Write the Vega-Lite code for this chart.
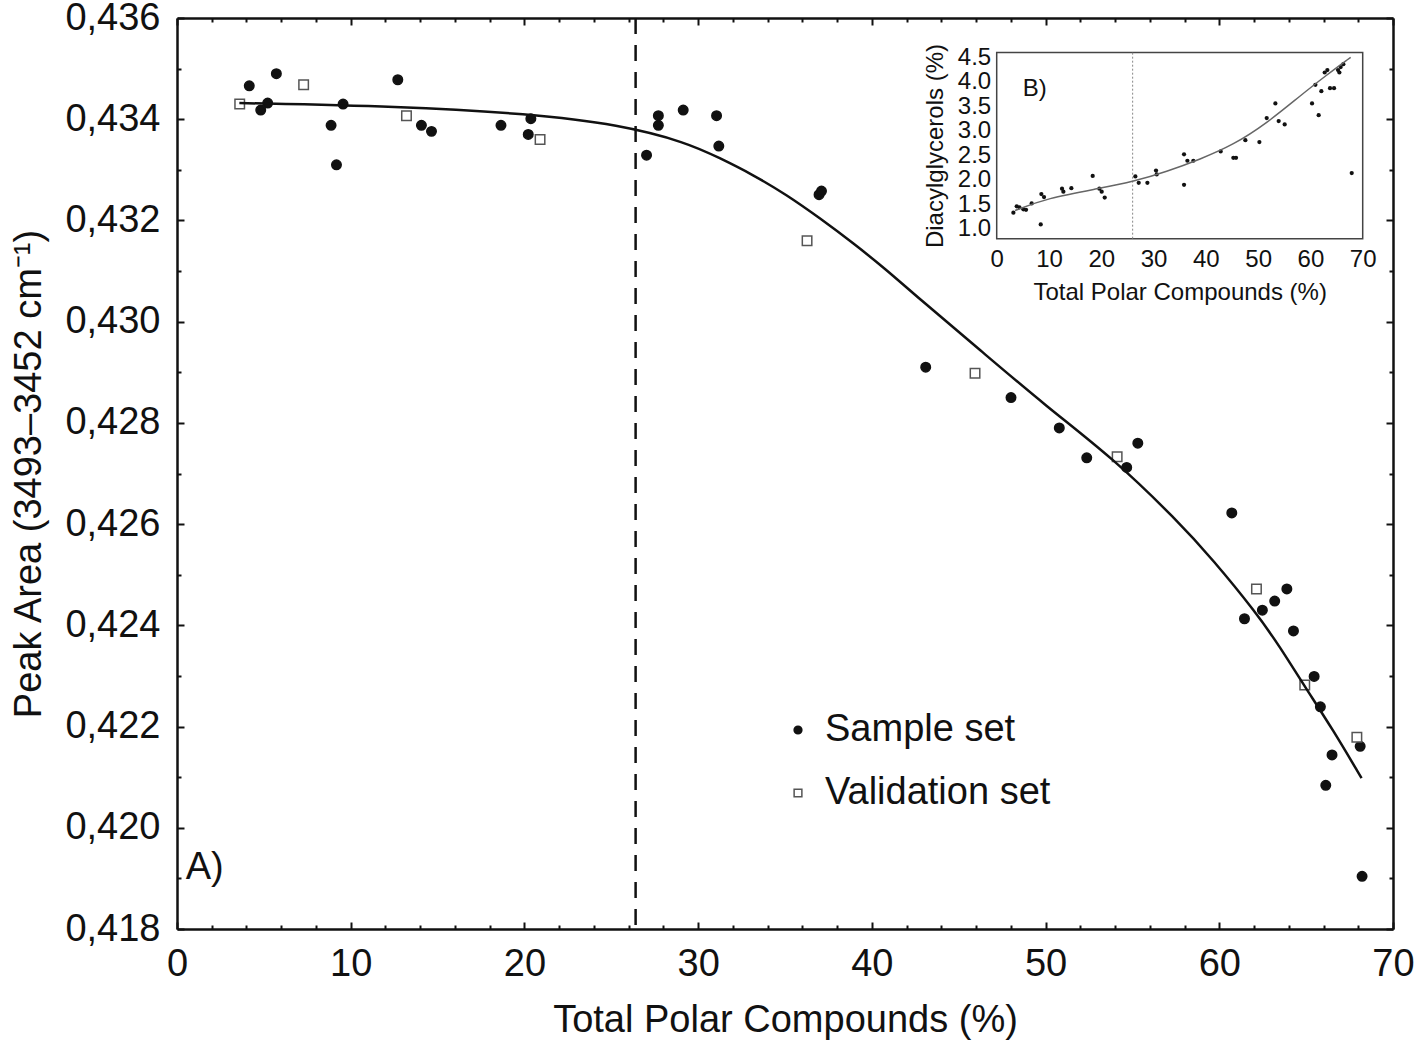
{
  "$schema": "https://vega.github.io/schema/vega-lite/v6.json",
  "width": 1216,
  "height": 911,
  "autosize": {"type": "none"},
  "padding": {"left": 177, "top": 18, "right": 21, "bottom": 112},
  "background": "white",
  "config": {
    "view": {"stroke": null},
    "font": "Liberation Sans",
    "axis": {
      "labelFont": "Liberation Sans",
      "titleFont": "Liberation Sans",
      "labelColor": "#111",
      "titleColor": "#111",
      "tickColor": "#111",
      "domainColor": "#111",
      "grid": false,
      "titleFontWeight": "normal",
      "labelFlush": false,
      "labelOverlap": false,
      "labelBound": false
    },
    "legend": {"labelFont": "Liberation Sans", "labelLimit": 0}
  },
  "datasets": {
    "main": [
      {"tpc": 4.16, "area": 0.43466, "set": "Sample set"},
      {"tpc": 5.72, "area": 0.43490, "set": "Sample set"},
      {"tpc": 4.82, "area": 0.43418, "set": "Sample set"},
      {"tpc": 5.22, "area": 0.43432, "set": "Sample set"},
      {"tpc": 9.56, "area": 0.43430, "set": "Sample set"},
      {"tpc": 8.87, "area": 0.43388, "set": "Sample set"},
      {"tpc": 9.18, "area": 0.43310, "set": "Sample set"},
      {"tpc": 12.71, "area": 0.43478, "set": "Sample set"},
      {"tpc": 14.07, "area": 0.43388, "set": "Sample set"},
      {"tpc": 14.65, "area": 0.43376, "set": "Sample set"},
      {"tpc": 18.65, "area": 0.43388, "set": "Sample set"},
      {"tpc": 20.37, "area": 0.43401, "set": "Sample set"},
      {"tpc": 20.22, "area": 0.43370, "set": "Sample set"},
      {"tpc": 27.03, "area": 0.43329, "set": "Sample set"},
      {"tpc": 27.71, "area": 0.43407, "set": "Sample set"},
      {"tpc": 27.71, "area": 0.43388, "set": "Sample set"},
      {"tpc": 29.14, "area": 0.43418, "set": "Sample set"},
      {"tpc": 31.06, "area": 0.43407, "set": "Sample set"},
      {"tpc": 31.19, "area": 0.43347, "set": "Sample set"},
      {"tpc": 36.96, "area": 0.43251, "set": "Sample set"},
      {"tpc": 37.10, "area": 0.43258, "set": "Sample set"},
      {"tpc": 43.10, "area": 0.42910, "set": "Sample set"},
      {"tpc": 48.01, "area": 0.42850, "set": "Sample set"},
      {"tpc": 50.79, "area": 0.42790, "set": "Sample set"},
      {"tpc": 52.37, "area": 0.42731, "set": "Sample set"},
      {"tpc": 54.67, "area": 0.42712, "set": "Sample set"},
      {"tpc": 55.31, "area": 0.42760, "set": "Sample set"},
      {"tpc": 60.72, "area": 0.42622, "set": "Sample set"},
      {"tpc": 61.45, "area": 0.42413, "set": "Sample set"},
      {"tpc": 62.48, "area": 0.42430, "set": "Sample set"},
      {"tpc": 63.19, "area": 0.42448, "set": "Sample set"},
      {"tpc": 63.89, "area": 0.42472, "set": "Sample set"},
      {"tpc": 64.27, "area": 0.42389, "set": "Sample set"},
      {"tpc": 65.46, "area": 0.42299, "set": "Sample set"},
      {"tpc": 65.82, "area": 0.42239, "set": "Sample set"},
      {"tpc": 66.49, "area": 0.42144, "set": "Sample set"},
      {"tpc": 66.13, "area": 0.42084, "set": "Sample set"},
      {"tpc": 68.11, "area": 0.42161, "set": "Sample set"},
      {"tpc": 68.22, "area": 0.41904, "set": "Sample set"},
      {"tpc": 3.61, "area": 0.43430, "set": "Validation set"},
      {"tpc": 7.29, "area": 0.43468, "set": "Validation set"},
      {"tpc": 13.21, "area": 0.43407, "set": "Validation set"},
      {"tpc": 20.90, "area": 0.43360, "set": "Validation set"},
      {"tpc": 36.27, "area": 0.43160, "set": "Validation set"},
      {"tpc": 45.94, "area": 0.42898, "set": "Validation set"},
      {"tpc": 54.12, "area": 0.42733, "set": "Validation set"},
      {"tpc": 62.14, "area": 0.42472, "set": "Validation set"},
      {"tpc": 64.92, "area": 0.42282, "set": "Validation set"},
      {"tpc": 67.92, "area": 0.42179, "set": "Validation set"}
    ],
    "mainFit": [
      {"tpc": 3.59, "area": 0.434320},
      {"tpc": 12.80, "area": 0.434253},
      {"tpc": 20.29, "area": 0.434109},
      {"tpc": 25.49, "area": 0.433891},
      {"tpc": 29.33, "area": 0.433542},
      {"tpc": 31.24, "area": 0.433233},
      {"tpc": 33.16, "area": 0.432903},
      {"tpc": 35.08, "area": 0.432508},
      {"tpc": 37.00, "area": 0.432047},
      {"tpc": 38.92, "area": 0.431553},
      {"tpc": 40.84, "area": 0.431026},
      {"tpc": 42.57, "area": 0.430500},
      {"tpc": 46.21, "area": 0.429445},
      {"tpc": 50.05, "area": 0.428324},
      {"tpc": 53.89, "area": 0.427300},
      {"tpc": 57.54, "area": 0.426085},
      {"tpc": 59.64, "area": 0.425294},
      {"tpc": 62.14, "area": 0.424241},
      {"tpc": 63.48, "area": 0.423581},
      {"tpc": 64.92, "area": 0.422790},
      {"tpc": 66.55, "area": 0.421935},
      {"tpc": 68.19, "area": 0.420980}
    ],
    "inset": [
      {"tpc": 3.19, "dag": 1.33}, {"tpc": 3.83, "dag": 1.46}, {"tpc": 4.34, "dag": 1.44},
      {"tpc": 5.10, "dag": 1.40}, {"tpc": 5.61, "dag": 1.39}, {"tpc": 6.69, "dag": 1.52},
      {"tpc": 8.42, "dag": 1.09}, {"tpc": 8.54, "dag": 1.71}, {"tpc": 9.05, "dag": 1.65},
      {"tpc": 12.49, "dag": 1.82}, {"tpc": 12.75, "dag": 1.76}, {"tpc": 14.28, "dag": 1.83},
      {"tpc": 18.36, "dag": 2.08}, {"tpc": 19.64, "dag": 1.82}, {"tpc": 20.08, "dag": 1.76},
      {"tpc": 20.66, "dag": 1.64}, {"tpc": 26.52, "dag": 2.07}, {"tpc": 27.16, "dag": 1.94},
      {"tpc": 28.82, "dag": 1.94}, {"tpc": 30.47, "dag": 2.19}, {"tpc": 30.60, "dag": 2.11},
      {"tpc": 35.83, "dag": 2.52}, {"tpc": 35.83, "dag": 1.90}, {"tpc": 36.47, "dag": 2.39},
      {"tpc": 37.61, "dag": 2.39}, {"tpc": 42.84, "dag": 2.58}, {"tpc": 45.26, "dag": 2.45},
      {"tpc": 45.77, "dag": 2.45}, {"tpc": 47.56, "dag": 2.81}, {"tpc": 50.24, "dag": 2.77},
      {"tpc": 51.64, "dag": 3.26}, {"tpc": 53.30, "dag": 3.56}, {"tpc": 53.93, "dag": 3.20},
      {"tpc": 55.08, "dag": 3.13}, {"tpc": 60.31, "dag": 3.56}, {"tpc": 60.95, "dag": 3.94},
      {"tpc": 61.58, "dag": 3.32}, {"tpc": 62.09, "dag": 3.81}, {"tpc": 62.73, "dag": 4.19},
      {"tpc": 63.24, "dag": 4.24}, {"tpc": 63.75, "dag": 3.87}, {"tpc": 64.52, "dag": 3.87},
      {"tpc": 65.28, "dag": 4.24}, {"tpc": 65.54, "dag": 4.19}, {"tpc": 65.79, "dag": 4.30},
      {"tpc": 66.30, "dag": 4.36}, {"tpc": 67.90, "dag": 2.14}
    ],
    "insetFit": [
      {"tpc": 3.51, "dag": 1.374},
      {"tpc": 9.56, "dag": 1.625},
      {"tpc": 19.76, "dag": 1.829},
      {"tpc": 26.14, "dag": 1.965},
      {"tpc": 32.51, "dag": 2.169},
      {"tpc": 38.89, "dag": 2.420},
      {"tpc": 45.26, "dag": 2.713},
      {"tpc": 51.64, "dag": 3.154},
      {"tpc": 58.01, "dag": 3.712},
      {"tpc": 63.11, "dag": 4.140},
      {"tpc": 67.70, "dag": 4.500}
    ]
  },
  "layer": [
    {
      "layer": [
        {
          "data": {"values": [{"tpc": 26.4}]},
          "mark": {"type": "rule", "strokeDash": [16, 11], "strokeWidth": 2.5, "color": "#111"},
          "encoding": {
            "x": {
              "field": "tpc", "type": "quantitative",
              "scale": {"domain": [0, 70], "nice": false, "zero": false},
              "axis": {
                "orient": "bottom", "values": [0, 10, 20, 30, 40, 50, 60, 70],
                "tickSize": -7, "tickWidth": 2, "domain": true, "domainWidth": 2.5,
                "labelFontSize": 38, "labelPadding": 23,
                "title": "Total Polar Compounds (%)", "titleFontSize": 38, "titlePadding": 18
              }
            }
          }
        },
        {
          "data": {"name": "main"},
          "transform": [{"filter": "datum.set === 'Sample set'"}],
          "mark": {"type": "point", "opacity": 1, "strokeWidth": 1.5, "size": 90},
          "encoding": {
            "x": {
              "field": "tpc", "type": "quantitative",
              "scale": {"domain": [0, 70], "nice": false, "zero": false},
              "axis": {
                "orient": "bottom", "values": [2, 4, 6, 8, 12, 14, 16, 18, 22, 24, 26, 28, 32, 34, 36, 38, 42, 44, 46, 48, 52, 54, 56, 58, 62, 64, 66, 68],
                "tickSize": -4, "tickWidth": 2, "domain": false, "labels": false, "title": null
              }
            },
            "y": {
              "field": "area", "type": "quantitative",
              "scale": {"domain": [0.418, 0.436], "nice": false, "zero": false},
              "axis": {
                "orient": "left", "values": [0.418, 0.42, 0.422, 0.424, 0.426, 0.428, 0.43, 0.432, 0.434, 0.436],
                "labelExpr": "replace(format(datum.value, '.3f'), '.', ',')",
                "tickSize": -7, "tickWidth": 2, "domain": true, "domainWidth": 2.5,
                "labelFontSize": 38, "labelPadding": 24,
                "title": "Peak Area (3493–3452 cm⁻¹)", "titleFontSize": 38, "titlePadding": 16
              }
            },
            "shape": {"field": "set", "type": "nominal", "scale": {"domain": ["Sample set", "Validation set"], "range": ["circle", "square"]},
              "legend": {"orient": "none", "legendX": 602, "legendY": 693, "title": null, "labelFontSize": 38, "symbolSize": 60, "symbolStrokeWidth": 1.5, "rowPadding": 25, "labelOffset": 8, "padding": 0, "labelColor": "#111", "labelLimit": 0}},
            "fill": {"field": "set", "type": "nominal", "scale": {"domain": ["Sample set", "Validation set"], "range": ["#111", "#ffffff"]},
              "legend": {"orient": "none", "legendX": 602, "legendY": 693, "title": null, "labelFontSize": 38, "symbolSize": 60, "symbolStrokeWidth": 1.5, "rowPadding": 25, "labelOffset": 8, "padding": 0, "labelColor": "#111", "labelLimit": 0}},
            "stroke": {"field": "set", "type": "nominal", "scale": {"domain": ["Sample set", "Validation set"], "range": ["#111", "#555"]},
              "legend": {"orient": "none", "legendX": 602, "legendY": 693, "title": null, "labelFontSize": 38, "symbolSize": 60, "symbolStrokeWidth": 1.5, "rowPadding": 25, "labelOffset": 8, "padding": 0, "labelColor": "#111", "labelLimit": 0}}
          }
        },
        {
          "data": {"name": "main"},
          "transform": [{"filter": "datum.set === 'Validation set'"}],
          "mark": {"type": "point", "opacity": 1, "strokeWidth": 1.5, "size": 90},
          "encoding": {
            "x": {
              "field": "tpc", "type": "quantitative",
              "scale": {"domain": [0, 70], "nice": false, "zero": false},
              "axis": {
                "orient": "top", "values": [0, 10, 20, 30, 40, 50, 60, 70],
                "tickSize": -7, "tickWidth": 2, "domain": true, "domainWidth": 2.5, "labels": false, "title": null
              }
            },
            "y": {
              "field": "area", "type": "quantitative",
              "scale": {"domain": [0.418, 0.436], "nice": false, "zero": false},
              "axis": {
                "orient": "left", "values": [0.419, 0.421, 0.423, 0.425, 0.427, 0.429, 0.431, 0.433, 0.435],
                "tickSize": -4, "tickWidth": 2, "domain": false, "labels": false, "title": null
              }
            },
            "shape": {"field": "set", "type": "nominal", "scale": {"domain": ["Sample set", "Validation set"], "range": ["circle", "square"]},
              "legend": {"orient": "none", "legendX": 602, "legendY": 693, "title": null, "labelFontSize": 38, "symbolSize": 60, "symbolStrokeWidth": 1.5, "rowPadding": 25, "labelOffset": 8, "padding": 0, "labelColor": "#111", "labelLimit": 0}},
            "fill": {"field": "set", "type": "nominal", "scale": {"domain": ["Sample set", "Validation set"], "range": ["#111", "#ffffff"]},
              "legend": {"orient": "none", "legendX": 602, "legendY": 693, "title": null, "labelFontSize": 38, "symbolSize": 60, "symbolStrokeWidth": 1.5, "rowPadding": 25, "labelOffset": 8, "padding": 0, "labelColor": "#111", "labelLimit": 0}},
            "stroke": {"field": "set", "type": "nominal", "scale": {"domain": ["Sample set", "Validation set"], "range": ["#111", "#555"]},
              "legend": {"orient": "none", "legendX": 602, "legendY": 693, "title": null, "labelFontSize": 38, "symbolSize": 60, "symbolStrokeWidth": 1.5, "rowPadding": 25, "labelOffset": 8, "padding": 0, "labelColor": "#111", "labelLimit": 0}}
          }
        },
        {
          "data": {"name": "mainFit"},
          "mark": {"type": "line", "interpolate": "basis", "strokeWidth": 2.5, "color": "#111"},
          "encoding": {
            "x": {
              "field": "tpc", "type": "quantitative",
              "scale": {"domain": [0, 70], "nice": false, "zero": false},
              "axis": {
                "orient": "top", "values": [2, 4, 6, 8, 12, 14, 16, 18, 22, 24, 26, 28, 32, 34, 36, 38, 42, 44, 46, 48, 52, 54, 56, 58, 62, 64, 66, 68],
                "tickSize": -4, "tickWidth": 2, "domain": false, "labels": false, "title": null
              }
            },
            "y": {
              "field": "area", "type": "quantitative",
              "scale": {"domain": [0.418, 0.436], "nice": false, "zero": false},
              "axis": {
                "orient": "right", "values": [0.418, 0.42, 0.422, 0.424, 0.426, 0.428, 0.43, 0.432, 0.434, 0.436],
                "tickSize": -7, "tickWidth": 2, "domain": true, "domainWidth": 2.5, "labels": false, "title": null
              }
            }
          }
        },
        {
          "data": {"values": [{"tpc": 0.5, "area": 0.41899, "label": "A)"}]},
          "mark": {"type": "text", "align": "left", "baseline": "alphabetic", "fontSize": 38, "font": "Liberation Sans", "color": "#111"},
          "encoding": {
            "x": {"field": "tpc", "type": "quantitative", "scale": {"domain": [0, 70], "nice": false, "zero": false}, "axis": null},
            "y": {
              "field": "area", "type": "quantitative",
              "scale": {"domain": [0.418, 0.436], "nice": false, "zero": false},
              "axis": {
                "orient": "right", "values": [0.419, 0.421, 0.423, 0.425, 0.427, 0.429, 0.431, 0.433, 0.435],
                "tickSize": -4, "tickWidth": 2, "domain": false, "labels": false, "title": null
              }
            },
            "text": {"field": "label"}
          }
        }
      ],
      "resolve": {"axis": {"x": "independent", "y": "independent"}}
    },
    {
      "layer": [
        {
          "data": {"values": [{"tpc": 0, "tpc2": 70, "dag": 0.8, "dag2": 4.6}]},
          "mark": {"type": "rect", "fill": "white", "stroke": "#444", "strokeWidth": 1.5},
          "encoding": {
            "x": {
              "field": "tpc", "type": "quantitative",
              "scale": {"domain": [0, 70], "range": [819.7, 1185.7], "nice": false, "zero": false},
              "axis": {
                "orient": "bottom", "offset": -690.3, "values": [0, 10, 20, 30, 40, 50, 60, 70],
                "ticks": false, "domain": false, "labelFontSize": 24, "labelPadding": 9,
                "title": "Total Polar Compounds (%)", "titleFontSize": 24, "titlePadding": 9
              }
            },
            "x2": {"field": "tpc2"},
            "y": {
              "field": "dag", "type": "quantitative",
              "scale": {"domain": [0.8, 4.6], "range": [220.7, 34.4], "nice": false, "zero": false},
              "axis": {
                "orient": "left", "offset": -819.7, "values": [1, 1.5, 2, 2.5, 3, 3.5, 4, 4.5],
                "format": ".1f", "ticks": false, "domain": false, "labelFontSize": 24, "labelPadding": 6,
                "title": "Diacylglycerols (%)", "titleFontSize": 24, "titlePadding": 10
              }
            },
            "y2": {"field": "dag2"}
          }
        },
        {
          "data": {"values": [{"tpc": 26, "dag": 0.8, "dag2": 4.6}]},
          "mark": {"type": "rule", "stroke": "#888", "strokeDash": [2, 2], "strokeWidth": 1},
          "encoding": {
            "x": {"field": "tpc", "type": "quantitative"},
            "y": {"field": "dag", "type": "quantitative"},
            "y2": {"field": "dag2"}
          }
        },
        {
          "data": {"name": "inset"},
          "mark": {"type": "circle", "size": 18, "color": "#111", "opacity": 1},
          "encoding": {
            "x": {"field": "tpc", "type": "quantitative"},
            "y": {"field": "dag", "type": "quantitative"}
          }
        },
        {
          "data": {"name": "insetFit"},
          "mark": {"type": "line", "interpolate": "basis", "strokeWidth": 1.5, "color": "#666"},
          "encoding": {
            "x": {"field": "tpc", "type": "quantitative"},
            "y": {"field": "dag", "type": "quantitative"}
          }
        },
        {
          "data": {"values": [{"tpc": 5, "dag": 3.71, "label": "B)"}]},
          "mark": {"type": "text", "align": "left", "baseline": "alphabetic", "fontSize": 24, "font": "Liberation Sans", "color": "#111"},
          "encoding": {
            "x": {"field": "tpc", "type": "quantitative"},
            "y": {"field": "dag", "type": "quantitative"},
            "text": {"field": "label"}
          }
        }
      ]
    }
  ],
  "resolve": {
    "scale": {"x": "independent", "y": "independent"},
    "axis": {"x": "independent", "y": "independent"}
  }
}
